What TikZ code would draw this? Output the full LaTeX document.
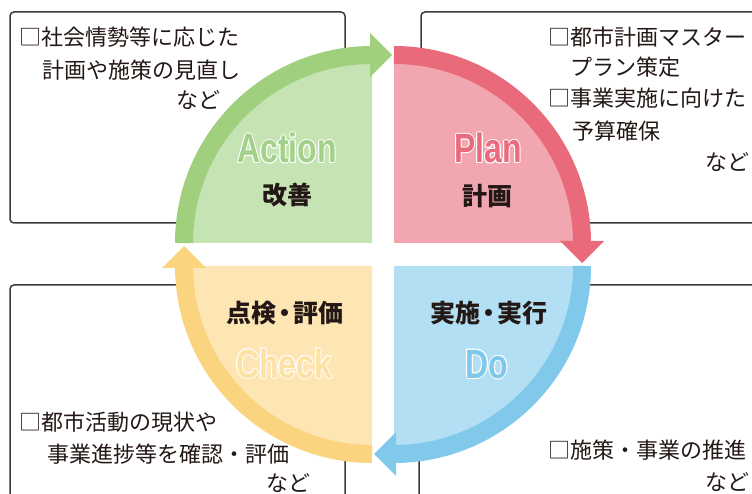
\documentclass[tikz,border=0pt]{standalone}
\usepackage{fontspec}
\newfontfamily\jp{Noto Sans CJK JP}
\newfontfamily\lab[FakeStretch=0.78]{Liberation Sans}
\definecolor{gband}{HTML}{A0D07E}
\definecolor{gfill}{HTML}{C5E3B3}
\definecolor{gtext}{HTML}{A3D18A}
\definecolor{pband}{HTML}{E96B7B}
\definecolor{pfill}{HTML}{F2A6B0}
\definecolor{ptext}{HTML}{EA6B7C}
\definecolor{bband}{HTML}{80C9EA}
\definecolor{bfill}{HTML}{B2DFF3}
\definecolor{btext}{HTML}{80C9EA}
\definecolor{yband}{HTML}{FBD47F}
\definecolor{yfill}{HTML}{FDE6B3}
\definecolor{ytext}{HTML}{FDE2A4}
\definecolor{txt}{HTML}{231815}
\definecolor{boxc}{HTML}{3E3A39}
\tikzset{
  boxline/.style={draw=boxc, line width=1.5pt, rounded corners=4pt},
  body/.style={font=\jp\fontsize{22}{22}\selectfont, text=txt, inner sep=0pt, anchor=west},
  jplabel/.style={font=\jp\bfseries\fontsize{25}{25}\selectfont, text=txt, inner sep=0pt},
  eng/.style={font=\lab\bfseries\fontsize{41}{41}\selectfont, inner sep=0pt, anchor=base},
  band/.style={line width=18pt}
}
\newcommand\olabel[4]{%
  \foreach \a in {0,45,...,315} \node[eng, text=white] at ([shift={(\a:1.0)}]#2) {#4};
  \node[eng, text=#3] (#1) at (#2) {#4};
}
\begin{document}
\begin{tikzpicture}[x=1pt,y=1pt]
\clip (0,0) rectangle (752,493);
% text boxes
\draw[boxline] (10,481) rectangle (345,270);
\draw[boxline] (421,481) rectangle (790,270);
\draw[boxline] (10,208) rectangle (345,-30);
\draw[boxline] (419,208) rectangle (790,-30);
% Action (green)
\fill[gfill] (372,250) -- (184,250) arc[start angle=180, end angle=90, radius=188] -- cycle;
\draw[gband, band] (184,250) arc[start angle=180, end angle=90, radius=188];
\fill[gband] (370,460) -- (392,438) -- (370,416) -- cycle;
% Plan (pink)
\fill[pfill] (394,250) -- (394,438) arc[start angle=90, end angle=0, radius=188] -- cycle;
\draw[pband, band] (394,438) arc[start angle=90, end angle=0, radius=188];
\fill[pband] (560,252) -- (582,230) -- (604,252) -- cycle;
% Do (blue)
\fill[bfill] (394,227) -- (582,227) arc[start angle=0, end angle=-90, radius=188] -- cycle;
\draw[bband, band] (582,227) arc[start angle=0, end angle=-90, radius=188];
\fill[bband] (396,61) -- (374,39) -- (396,17) -- cycle;
% Check (yellow)
\fill[yfill] (372,227) -- (372,39) arc[start angle=270, end angle=180, radius=188] -- cycle;
\draw[yband, band] (372,39) arc[start angle=270, end angle=180, radius=188];
\fill[yband] (162,225) -- (184,247) -- (206,225) -- cycle;
% English labels
\olabel{act}{287,330}{gtext}{Action}
\olabel{pln}{488,330}{ptext}{Plan}
\olabel{dol}{487,115}{btext}{Do}
\olabel{chk}{284,115}{ytext}{Check}
% Japanese labels
\node[jplabel] (kaizen) at (287,298) {改善};
\node[jplabel] (keikaku) at (487,297) {計画};
\node[jplabel] (jisshi) at (489,180) {実施\kern-4pt・\kern-4pt実行};
\node[jplabel] (tenken) at (285,180) {点検\kern-4pt・\kern-4pt評価};
% box texts
\node[body] (tl1) at (19,456) {□社会情勢等に応じた};
\node[body] (tl2) at (42,423) {計画や施策の見直し};
\node[body] (tl3) at (176,393) {など};
\node[body] (tr1) at (548,456) {□都市計画マスター};
\node[body] (tr2) at (570,426) {プラン策定};
\node[body] (tr3) at (548,395) {□事業実施に向けた};
\node[body] (tr4) at (572,362) {予算確保};
\node[body] (tr5) at (705,331) {など};
\node[body] (bl1) at (19,71) {□都市活動の現状や};
\node[body] (bl2) at (47,39) {事業進捗等を確認・評価};
\node[body] (bl3) at (266,10) {など};
\node[body] (br1) at (548,43) {□施策・事業の推進};
\node[body] (br2) at (705,11) {など};
\end{tikzpicture}
\end{document}
